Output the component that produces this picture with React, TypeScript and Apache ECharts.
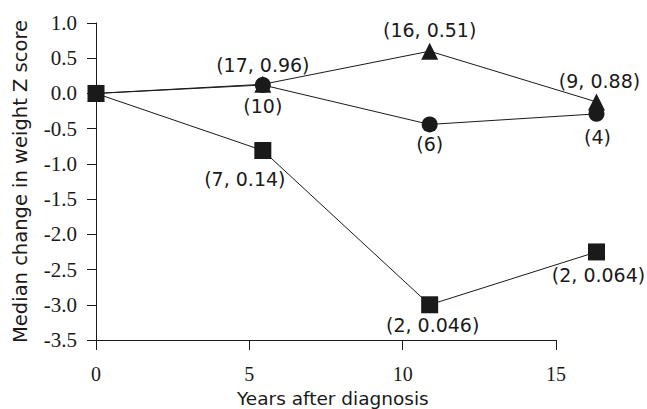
import React, { useEffect, useRef } from "react";
import * as echarts from "echarts";

const years = [0, 5, 10, 15];
const triangleValues = [0, 0.13, 0.6, -0.12];
const circleValues = [0, 0.12, -0.44, -0.29];
const squareValues = [0, -0.81, -3.0, -2.25];
const triangleLabels = ["", "(17, 0.96)", "(16, 0.51)", "(9, 0.88)"];
const circleLabels = ["", "(10)", "(6)", "(4)"];
const squareLabels = ["", "(7, 0.14)", "(2, 0.046)", "(2, 0.064)"];

const triangleOffsets = [[0, 0], [0, -19], [0, -21], [3, -21]];
const circleOffsets = [[0, 0], [0, 21], [0, 20], [1, 23]];
const squareOffsets = [[0, 0], [-18, 28], [3, 20], [2, 23]];

const INK = "#1a1a1a";
const SANS = "DejaVu Sans";
const SERIF = "'Liberation Serif', 'Times New Roman', serif";

function buildData(values: number[], labels: string[], offsets: number[][]) {
  return years.map((y, i) => ({
    value: [y, values[i]],
    label: {
      show: labels[i] !== "",
      formatter: labels[i],
      position: "inside",
      offset: offsets[i],
      color: INK,
      fontFamily: SANS,
      fontSize: 19,
    },
  }));
}

export default function App() {
  const ref = useRef<HTMLDivElement>(null);
  useEffect(() => {
    if (!ref.current) return;
    const chart = echarts.init(ref.current, undefined, { renderer: "svg" });
    const lineStyle = { color: INK, width: 1 };
    chart.setOption({
      animation: false,
      backgroundColor: "#fff",
      grid: [
        { left: 96, right: 91, top: 23, bottom: 69 },
        { left: 96, right: 50.5, top: 23, bottom: 69 },
      ],
      xAxis: [
        {
          type: "value",
          gridIndex: 0,
          min: 0,
          max: 15,
          interval: 5,
          axisLine: { onZero: false, lineStyle: { color: INK, width: 1 } },
          axisTick: { show: true, length: 10, lineStyle: { color: INK } },
          axisLabel: {
            color: INK,
            fontFamily: SERIF,
            fontSize: 20,
            margin: 24,
          },
          splitLine: { show: false },
        },
        {
          type: "value",
          gridIndex: 1,
          min: 0,
          max: 15,
          show: false,
        },
      ],
      yAxis: [
        {
          type: "value",
          gridIndex: 0,
          min: -3.5,
          max: 1,
          interval: 0.5,
          axisLine: { show: true, onZero: false, lineStyle: { color: INK, width: 1 } },
          axisTick: { show: true, length: 9, lineStyle: { color: INK } },
          axisLabel: {
            color: INK,
            fontFamily: SERIF,
            fontSize: 21,
            margin: 19,
            formatter: (v: number) => v.toFixed(1),
          },
          splitLine: { show: false },
          name: "Median change in weight Z score",
          nameLocation: "middle",
          nameGap: 66,
          nameTextStyle: { color: INK, fontFamily: SANS, fontSize: 19.5 },
        },
        {
          type: "value",
          gridIndex: 1,
          min: -3.5,
          max: 1,
          show: false,
        },
      ],
      graphic: [
        {
          type: "text",
          left: 237,
          top: 389,
          style: {
            text: "Years after diagnosis",
            fill: INK,
            font: `18.5px "${SANS}"`,
          },
        },
      ],
      series: [
        {
          type: "line",
          xAxisIndex: 1,
          yAxisIndex: 1,
          symbol: "triangle",
          symbolSize: 17,
          lineStyle,
          itemStyle: { color: INK },
          data: buildData(triangleValues, triangleLabels, triangleOffsets),
          z: 2,
        },
        {
          type: "line",
          xAxisIndex: 1,
          yAxisIndex: 1,
          symbol: "circle",
          symbolSize: 16,
          lineStyle,
          itemStyle: { color: INK },
          data: buildData(circleValues, circleLabels, circleOffsets),
          z: 3,
        },
        {
          type: "line",
          xAxisIndex: 1,
          yAxisIndex: 1,
          symbol: "rect",
          symbolSize: 17,
          lineStyle,
          itemStyle: { color: INK },
          data: buildData(squareValues, squareLabels, squareOffsets),
          z: 4,
        },
      ],
    });
    return () => chart.dispose();
  }, []);
  return (
    <div
      ref={ref}
      style={{ position: "fixed", left: 0, top: 0, width: 647, height: 409 }}
    />
  );
}
